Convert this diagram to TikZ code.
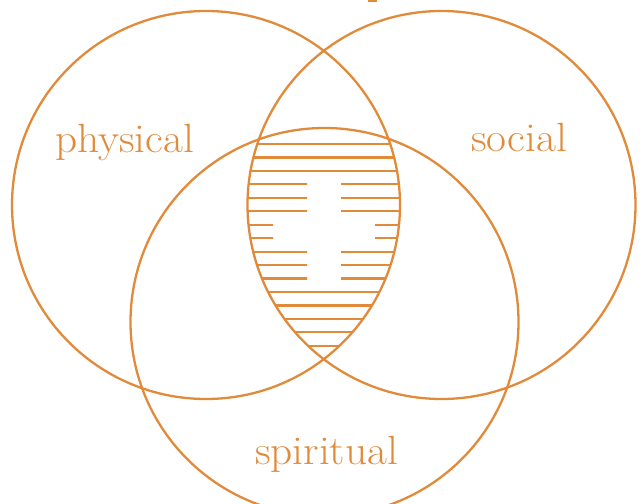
\documentclass[tikz,border=0pt]{standalone}
\definecolor{venn}{RGB}{224,138,58}
\newcommand{\largo}[1]{\scalebox{1.06}[1]{#1}}
\begin{document}
\begin{tikzpicture}[x=1bp, y=-1bp,
    cerchio/.style={draw=venn, line width=2.3bp},
    tratto/.style={venn, line width=2.2bp},
    etichetta/.style={text=venn, inner sep=0pt, anchor=base west, font=\fontsize{41}{48}\selectfont}]
        \useasboundingbox (0,0) rectangle (643,504);

        % Centri dei tre cerchi
        \coordinate (fisico) at (206,205);
        \coordinate (sociale) at (441.5,205);
        \coordinate (spirito) at (324.5,322);

        % Intersezione tratteggiata con la croce
        \begin{scope}[even odd rule]
            \clip (fisico) circle (194);
            \clip (sociale) circle (194);
            \clip (spirito) circle (194);
            \clip (0,0) rectangle (643,504)
                (307,177) -- (341,177) -- (341,218) -- (375,218) -- (375,245) -- (341,245)
                -- (341,286) -- (307,286) -- (307,245) -- (273,245) -- (273,218) -- (307,218) -- cycle;
            \foreach \k in {0,...,16}
                \draw[tratto] (230,144+13.45*\k) -- (420,144+13.45*\k);
        \end{scope}

        % Cerchi
        \draw[cerchio] (fisico) circle (194);
        \draw[cerchio] (sociale) circle (194);
        \draw[cerchio] (spirito) circle (194);

        % Segno in alto
        \fill[venn] (368,0) rectangle (377,2.5);

        % Etichette
        \node[etichetta] (physical) at (55,153) {\largo{physical}};
        \node[etichetta] (social) at (471,152) {\largo{social}};
        \node[etichetta] (spiritual) at (255,464) {\largo{spiritual}};
\end{tikzpicture}
\end{document}
